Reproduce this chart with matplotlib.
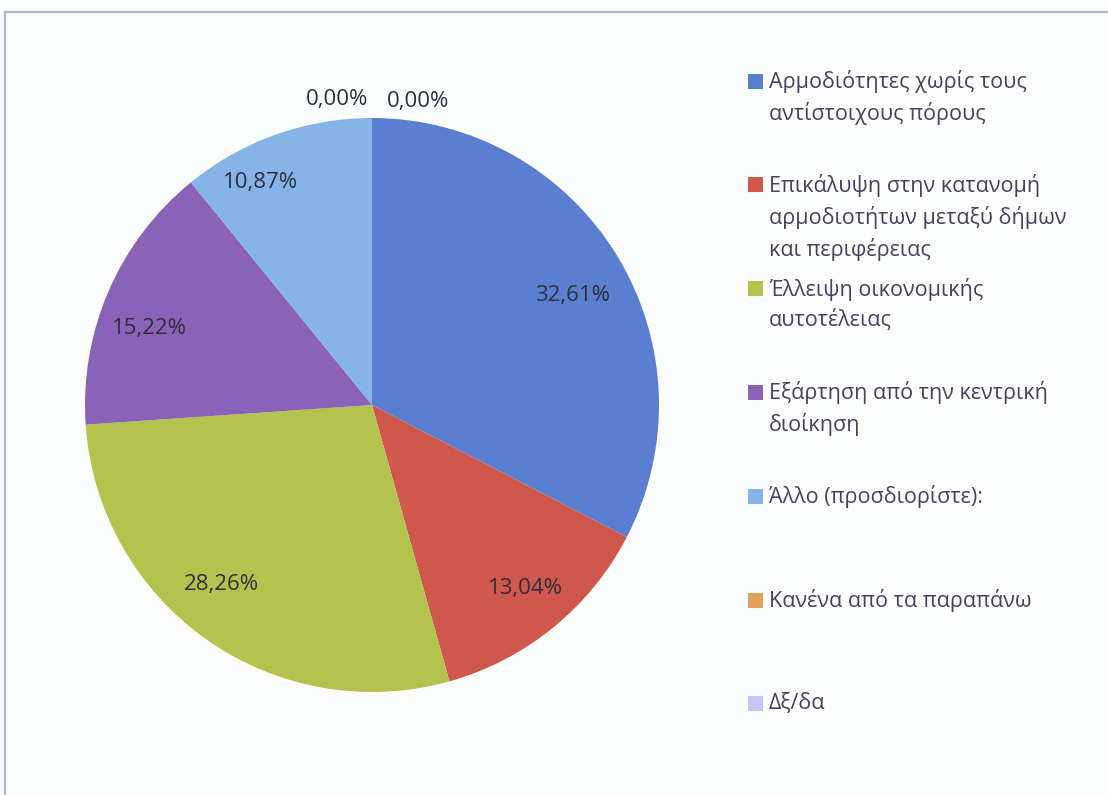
import matplotlib.pyplot as plt
from matplotlib.patches import Rectangle
from matplotlib.lines import Line2D

# data
categories = [
    "Αρμοδιότητες χωρίς τους\nαντίστοιχους πόρους",
    "Επικάλυψη στην κατανομή\nαρμοδιοτήτων μεταξύ δήμων\nκαι περιφέρειας",
    "Έλλειψη οικονομικής\nαυτοτέλειας",
    "Εξάρτηση από την κεντρική\nδιοίκηση",
    "Άλλο (προσδιορίστε):",
    "Κανένα από τα παραπάνω",
    "Δξ/δα",
]
shares = [32.61, 13.04, 28.26, 15.22, 10.87, 0.00, 0.00]
colors = ["#5A7FD0", "#D0574B", "#B4C24E", "#8A62B8", "#86B4E8", "#E3A058", "#C9C3F2"]

W, H = 1108, 795
plt.rcParams['font.family'] = ['Open Sans', 'DejaVu Sans']

fig = plt.figure(figsize=(W / 100, H / 100), dpi=100)
fig.patch.set_facecolor("#FBFDFD")

# frame left and top edge (scanned chart border)
fig.add_artist(Line2D([5 / W, 5 / W], [0, 1 - 12 / H], color="#B4B4CC", lw=1.6))
fig.add_artist(Line2D([5 / W, 1], [1 - 12 / H, 1 - 12 / H], color="#B4B4CC", lw=1.6))

cx, cy, r = 372, 405, 287
ax = fig.add_axes([(cx - r) / W, (H - cy - r) / H, 2 * r / W, 2 * r / H])
ax.set_facecolor("none")

wedges, texts, autotexts = ax.pie(
    shares, colors=colors, startangle=90, counterclock=False,
    autopct=lambda p: f"{p:.2f}%".replace(".", ","), pctdistance=0.82,
    wedgeprops=dict(linewidth=0), radius=1.0,
    textprops=dict(fontsize=16, color="#2E2E3C"),
)
ax.set_xlim(-1, 1)
ax.set_ylim(-1, 1)
ax.set_aspect("equal")

# Excel "best fit" label placement (in pie radius units)
label_pos = [(0.699, 0.380), (0.533, -0.638), (-0.523, -0.627),
             (-0.774, 0.268), (-0.390, 0.774), (-0.122, 1.063), (0.160, 1.056)]
for t, pos in zip(autotexts, label_pos):
    t.set_position(pos)

# legend, Excel style: evenly pitched entries
for i, (lab, col) in enumerate(zip(categories, colors)):
    yc = 81 + i * 103.8
    fig.add_artist(Rectangle((748 / W, 1 - (yc + 7.5) / H), 15 / W, 15 / H,
                             facecolor=col, edgecolor="none"))
    fig.text(769 / W, 1 - (yc - 11) / H, lab, fontsize=15.5, color="#4B3F5C",
             va="top", ha="left", linespacing=1.5)

fig.savefig("out.png", dpi=100, facecolor=fig.get_facecolor())
